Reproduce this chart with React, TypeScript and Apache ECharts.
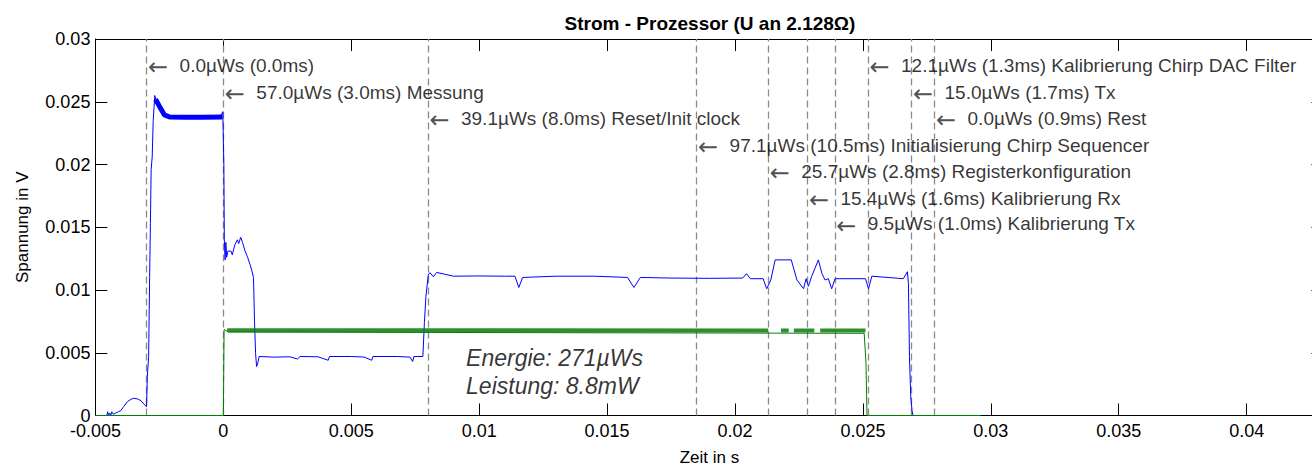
import React, { useEffect, useRef } from "react";
import * as echarts from "echarts";

const X_MIN = -0.005;
const X_MAX = 0.043;
const X_STEP = 0.005;
const Y_MIN = 0;
const Y_MAX = 0.03;
const Y_STEP = 0.005;

const titleText = "Strom - Prozessor (U an 2.128Ω)";
const xName = "Zeit in s";
const yName = "Spannung in V";

// Spannung (blau) [t in s, U in V]
const blueTrace: [number, number][] = [
  [-0.00455, 0.0], [-0.00452, 0.0003], [-0.00449, 0.0], [-0.00444, 0.0002], [-0.0044, 0.0],
  [-0.00436, 0.0003], [-0.0043, 0.0001], [-0.0042, 0.0002], [-0.0041, 0.0003], [-0.004, 0.0004],
  [-0.0039, 0.0007], [-0.00375, 0.0011], [-0.0036, 0.0013], [-0.0035, 0.00137], [-0.00335, 0.00132],
  [-0.00322, 0.00118], [-0.0031, 0.0009], [-0.003, 0.0007],
  [-0.00297, 0.0031], [-0.00292, 0.0047], [-0.00288, 0.011], [-0.00285, 0.0153], [-0.00282, 0.0196],
  [-0.00278, 0.0206], [-0.00274, 0.0235], [-0.00268, 0.0255], [-0.00262, 0.0251], [-0.00255, 0.0248],
  [-0.00245, 0.0245], [-0.0023, 0.024], [-0.00215, 0.0237], [-0.0015, 0.0238], [-0.0008, 0.0238],
  [-0.0001, 0.0239], [-0.00002, 0.0242],
  [0.00002, 0.02], [0.00004, 0.014], [0.00007, 0.0124], [0.0001, 0.0138], [0.00013, 0.0126],
  [0.00018, 0.0131], [0.0003, 0.0131], [0.00035, 0.0128], [0.00045, 0.0136], [0.00055, 0.014],
  [0.0006, 0.0137], [0.00068, 0.0142], [0.00075, 0.0138], [0.00085, 0.0131], [0.00095, 0.0126],
  [0.00105, 0.012], [0.00112, 0.0115], [0.00118, 0.011], [0.00122, 0.0075], [0.00126, 0.005],
  [0.0013, 0.0039], [0.00135, 0.0042], [0.0014, 0.0047], [0.002, 0.00465], [0.0026, 0.00468],
  [0.0029, 0.0045], [0.003, 0.0047], [0.0037, 0.00468], [0.0041, 0.0044], [0.00415, 0.0047],
  [0.005, 0.0047], [0.0055, 0.00466], [0.0058, 0.0044], [0.00585, 0.0047], [0.0068, 0.0047],
  [0.0073, 0.00465], [0.0074, 0.0043], [0.00745, 0.0047], [0.0078, 0.0047],
  [0.00786, 0.0074], [0.00792, 0.0095], [0.00801, 0.0112], [0.00808, 0.01138], [0.00821, 0.01106],
  [0.00834, 0.0114], [0.009, 0.0111], [0.01, 0.01112], [0.011, 0.0111], [0.0114, 0.0111],
  [0.01155, 0.0102], [0.0117, 0.011], [0.013, 0.0111], [0.0145, 0.0111], [0.0158, 0.011],
  [0.01605, 0.0102], [0.0163, 0.011], [0.0175, 0.01095], [0.019, 0.01093], [0.0203, 0.01095],
  [0.02045, 0.0113], [0.0206, 0.0109], [0.0211, 0.0109], [0.02124, 0.0101], [0.0214, 0.0108],
  [0.02157, 0.0124], [0.0222, 0.0124], [0.02242, 0.0108], [0.02268, 0.0101], [0.02278, 0.0109],
  [0.02287, 0.0103], [0.023, 0.0111], [0.02326, 0.0124], [0.0234, 0.0113], [0.02352, 0.0108],
  [0.02365, 0.0109], [0.02378, 0.0101], [0.02391, 0.0109], [0.0251, 0.0109], [0.02522, 0.0101],
  [0.02535, 0.0111], [0.0264, 0.01093], [0.02658, 0.0109], [0.02674, 0.01146], [0.02678, 0.0105],
  [0.02682, 0.0047], [0.02687, 0.0015], [0.02692, 0.0004], [0.02697, -0.0001], [0.0278, -0.0001],
  [0.0279, 0.0], [0.0296, 0.0],
];

// verrauschtes Plateau der blauen Kurve (dickes Band)
const bluePlateauBand: [number, number][] = [
  [-0.00265, 0.0252], [-0.0025, 0.02465], [-0.0023, 0.02395], [-0.0021, 0.02378],
  [-0.0015, 0.02377], [-0.0008, 0.02377], [-0.00003, 0.02378],
];

// grüne Kurve (Stufe)
const greenTrace: [number, number][] = [
  [-0.005, 0], [0, 0], [0.00003, 0.00685], [0.0002, 0.00665], [0.02505, 0.00655],
  [0.02512, 0.0042], [0.02516, 0], [0.0296, 0],
];

// verrauschtes Band der grünen Kurve (Lücken = null)
const greenNoiseBand: [number, number | null][] = [
  [0.00015, 0.0068], [0.0213, 0.00678], [0.0215, null],
  [0.0218, 0.00678], [0.0221, 0.00678], [0.0222, null],
  [0.0223, 0.00678], [0.0231, 0.00678], [0.0232, null],
  [0.02333, 0.00678], [0.0251, 0.00678],
];

const markerTimes = [-0.003, 0, 0.008, 0.0185, 0.0213, 0.02283, 0.0239, 0.0252, 0.0269, 0.0278];
const markerTexts = [
  "0.0µWs (0.0ms)",
  "57.0µWs (3.0ms) Messung",
  "39.1µWs (8.0ms) Reset/Init clock",
  "97.1µWs (10.5ms) Initialisierung Chirp Sequencer",
  "25.7µWs (2.8ms) Registerkonfiguration",
  "15.4µWs (1.6ms) Kalibrierung Rx",
  "9.5µWs (1.0ms) Kalibrierung Tx",
  "12.1µWs (1.3ms) Kalibrierung Chirp DAC Filter",
  "15.0µWs (1.7ms) Tx",
  "0.0µWs (0.9ms) Rest",
];
const markerLabelY = [0.0279, 0.02575, 0.0237, 0.02155, 0.01948, 0.01733, 0.01526, 0.0279, 0.02575, 0.0237];

const summaryPos: [number, number] = [0.00945, 0.00343];
const summaryLines = ["Energie: 271µWs", "Leistung: 8.8mW"];

const FONT = "'Liberation Sans', Arial, Helvetica, sans-serif";
const ARROW_FONT = "'DejaVu Sans', sans-serif";

export default function App() {
  const ref = useRef<HTMLDivElement>(null);

  useEffect(() => {
    if (!ref.current) return;
    const chart = echarts.init(ref.current, undefined, { renderer: "svg" });

    const baseAxisX = {
      type: "value" as const,
      min: X_MIN,
      max: X_MAX,
      interval: X_STEP,
      splitLine: { show: false },
      axisLine: { show: true, onZero: false, lineStyle: { color: "#000", width: 1 } },
      axisTick: { show: true, inside: true, length: 12, lineStyle: { color: "#000", width: 1 } },
    };
    const baseAxisY = {
      type: "value" as const,
      min: Y_MIN,
      max: Y_MAX,
      interval: Y_STEP,
      splitLine: { show: false },
      axisLine: { show: true, onZero: false, lineStyle: { color: "#000", width: 1 } },
      axisTick: { show: true, inside: true, length: 12, lineStyle: { color: "#000", width: 1 } },
    };

    const option: any = {
      animation: false,
      backgroundColor: "#fff",
      textStyle: { fontFamily: FONT },
      title: {
        text: titleText,
        left: 705,
        top: 9,
        textAlign: "center",
        textStyle: { fontFamily: FONT, fontWeight: "bold", fontSize: 19, color: "#000" },
      },
      grid: { left: 95.4, top: 39, width: 1228, height: 376.5, containLabel: false, outerBoundsMode: "none" },
      xAxis: [
        {
          ...baseAxisX,
          position: "bottom",
          name: xName,
          nameLocation: "middle",
          nameGap: 33,
          nameTextStyle: { fontFamily: FONT, fontSize: 17, color: "#000" },
          axisLabel: {
            show: true,
            margin: 6,
            showMaxLabel: false,
            fontFamily: FONT,
            fontSize: 18,
            color: "#000",
          },
        },
        {
          ...baseAxisX,
          position: "top",
          axisLabel: { show: false },
        },
      ],
      yAxis: [
        {
          ...baseAxisY,
          position: "left",
          name: yName,
          nameLocation: "middle",
          nameGap: 64,
          nameTextStyle: { fontFamily: FONT, fontSize: 17, color: "#000" },
          axisLabel: { show: true, margin: 5, fontFamily: FONT, fontSize: 18, color: "#000" },
        },
        {
          ...baseAxisY,
          position: "right",
          axisLabel: { show: false },
        },
      ],
      series: [
        {
          name: "U",
          type: "line",
          data: blueTrace,
          showSymbol: false,
          symbol: "none",
          lineStyle: { color: "#0000ff", width: 1 },
          z: 3,
          markLine: {
            silent: true,
            precision: 6,
            symbol: ["none", "none"],
            label: { show: false },
            lineStyle: { color: "#8a8a8a", type: [7, 4], width: 1.3 },
            data: markerTimes.map((t) => ({ xAxis: t })),
            z: 1,
          },
        },
        {
          name: "U-Band",
          type: "line",
          data: bluePlateauBand,
          showSymbol: false,
          symbol: "none",
          lineStyle: { color: "#0000ff", width: 5, cap: "butt" },
          z: 3,
        },
        {
          name: "G",
          type: "line",
          data: greenTrace,
          showSymbol: false,
          symbol: "none",
          lineStyle: { color: "#008000", width: 1 },
          z: 4,
        },
        {
          name: "G-Band",
          type: "line",
          data: greenNoiseBand,
          showSymbol: false,
          symbol: "none",
          connectNulls: false,
          lineStyle: { color: "#0a7a0a", width: 4, opacity: 0.85, cap: "butt" },
          z: 4,
        },
        {
          name: "Marker",
          type: "scatter",
          data: markerTimes.map((t, i) => [t, markerLabelY[i], markerTexts[i]]),
          symbolSize: 2,
          itemStyle: { color: "rgba(0,0,0,0)" },
          z: 5,
          label: {
            show: true,
            position: "right",
            distance: 0.5,
            formatter: (p: any) => `{a|←}{t|${p.value[2]}}`,
            rich: {
              a: { fontFamily: ARROW_FONT, fontSize: 24, color: "#222", width: 31.5, padding: [4, 0, 0, 0] },
              t: { fontFamily: FONT, fontSize: 19, color: "#000" },
            },
          },
        },
        {
          name: "Summary",
          type: "scatter",
          data: [[summaryPos[0], summaryPos[1]]],
          symbolSize: 2,
          itemStyle: { color: "rgba(0,0,0,0)" },
          z: 5,
          label: {
            show: true,
            position: "right",
            distance: 0,
            formatter: () => summaryLines.join("\n"),
            fontFamily: FONT,
            fontSize: 23,
            fontStyle: "italic",
            lineHeight: 28,
            color: "#000",
          },
        },
      ],
    };

    chart.setOption(option);
    return () => chart.dispose();
  }, []);

  return (
    <div
      ref={ref}
      style={{ position: "absolute", left: 0, top: 0, width: 1312, height: 467 }}
    />
  );
}
